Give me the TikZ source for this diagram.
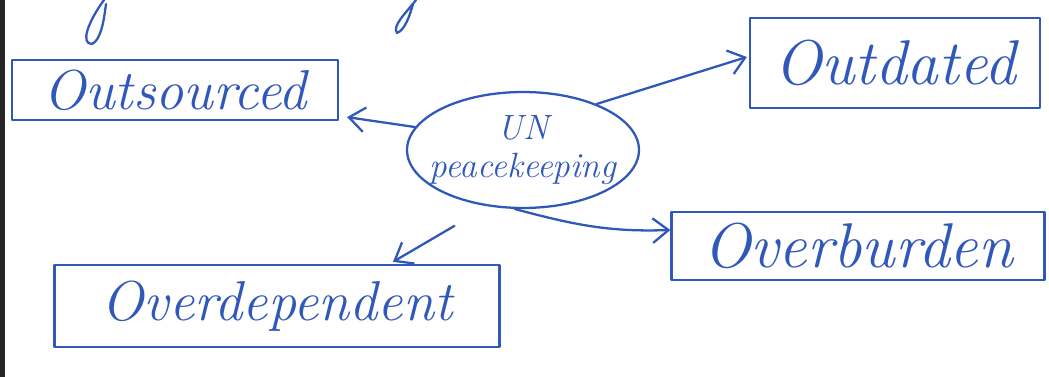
\documentclass[tikz,border=0pt]{standalone}
\usetikzlibrary{shapes.geometric,arrows.meta,calc}
\definecolor{ink}{RGB}{48,88,186}
\tikzset{
  pen/.style={draw=ink, line width=1.3pt, line cap=round, line join=round},
  wordbox/.style={pen, rectangle, inner sep=0pt, text=ink, font=\fontsize{32}{36}\selectfont\itshape},
  bigword/.style={wordbox, font=\fontsize{36}{40}\selectfont\itshape},
  hub/.style={pen, ellipse, inner xsep=-12pt, inner ysep=-4pt, text=ink, align=center, font=\fontsize{20}{22}\selectfont\itshape},
  arr/.style={pen, -{Straight Barb[length=9pt,width=14pt,line width=1.3pt]}}
}
\begin{document}
\begin{tikzpicture}[x=0.02cm, y=-0.02cm]
\useasboundingbox (0,0) rectangle (1049,377);
\fill[black!85] (0,0) rectangle (5,377);
% cut-off handwriting strokes at the top
\draw[pen] (104,0) .. controls (88,22) and (80,44) .. (92,44) .. controls (101,40) and (104,20) .. (106,4);
\draw[pen] (416,0) .. controls (405,14) and (392,26) .. (397,33) .. controls (405,30) and (410,15) .. (413,4);
% nodes
\node[hub, minimum width=4.64cm, minimum height=2.32cm] (c) at (523,150) {UN\\peacekeeping};
\node[wordbox, minimum width=6.52cm, minimum height=1.2cm] (out) at (175,90) {Outsourced};
\node[bigword, minimum width=5.8cm, minimum height=1.8cm] (od) at (895,63) {Outdated};
\node[bigword, minimum width=7.46cm, minimum height=1.36cm] (ob) at (858,246) {Overburden};
\node[wordbox, minimum width=8.9cm, minimum height=1.64cm] (dep) at (277,306) {Overdependent};
% connectors
\draw[arr] (c.168) -- ($(out.south east)+(8,-4)$);
\draw[arr] (c.32) -- ($(od.west)+(-2,-6)$);
\draw[arr] (c.262) to[out=-15, in=182] ($(ob.west)+(0,-16)$);
\draw[arr, shorten <=22pt] (c.238) -- ($(dep.north)+(116,-2)$);
\end{tikzpicture}
\end{document}
